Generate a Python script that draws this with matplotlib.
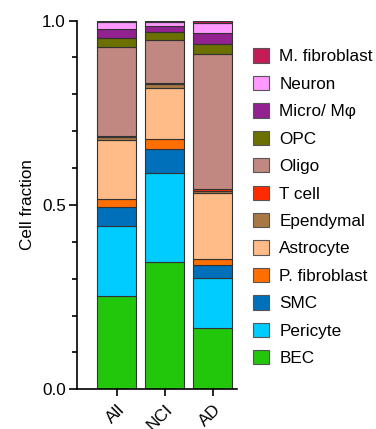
import matplotlib
matplotlib.use("Agg")
import matplotlib.pyplot as plt
import numpy as np
from matplotlib.patches import Patch
from matplotlib.ticker import MultipleLocator

plt.rcParams['font.family'] = ['Liberation Sans', 'DejaVu Sans']

groups = ["All", "NCI", "AD"]
cell_types = ["BEC", "Pericyte", "SMC", "P. fibroblast", "Astrocyte", "Ependymal",
              "T cell", "Oligo", "OPC", "Micro/ Mφ", "Neuron", "M. fibroblast"]
colors = ["#22C70C", "#00CCFF", "#0070BA", "#FF6F00", "#FFBB88", "#A87844",
          "#FF2A00", "#C08880", "#6B7000", "#92228F", "#FF99FF", "#C41C58"]

bec = [0.254, 0.345, 0.165]
pericyte = [0.190, 0.243, 0.136]
smc = [0.051, 0.064, 0.035]
p_fibroblast = [0.021, 0.026, 0.017]
astrocyte = [0.160, 0.139, 0.179]
ependymal = [0.009, 0.010, 0.007]
t_cell = [0.003, 0.005, 0.004]
oligo = [0.241, 0.116, 0.367]
opc = [0.023, 0.021, 0.026]
micro = [0.025, 0.017, 0.031]
neuron = [0.019, 0.010, 0.027]
m_fibroblast = [0.004, 0.004, 0.006]

series = [bec, pericyte, smc, p_fibroblast, astrocyte, ependymal, t_cell,
          oligo, opc, micro, neuron, m_fibroblast]

FS = 12.3

fig = plt.figure(figsize=(3.76, 4.29), dpi=100)
ax = fig.add_axes([0.205, 0.0925, 0.425, 0.8595])

x = np.arange(len(groups))
bottom = np.zeros(len(groups))
for vals, c in zip(series, colors):
    v = np.array(vals)
    ax.bar(x, v, bottom=bottom, width=0.81, color=c, edgecolor="#333333", linewidth=0.8)
    bottom += v

ax.set_xlim(-0.83, 2.5)
ax.set_ylim(0, 1.0)
ax.yaxis.set_minor_locator(MultipleLocator(0.1))
ax.set_yticks([0, 0.5, 1.0])
ax.set_yticklabels(["0.0", "0.5", "1.0"], fontsize=FS)
ax.tick_params(axis='y', which='major', length=6, width=1.2, pad=2)
ax.tick_params(axis='y', which='minor', length=3.5, width=1.2)
ax.set_xticks(x)
ax.set_xticklabels(groups, rotation=45, ha='right', rotation_mode='anchor', fontsize=FS)
ax.tick_params(axis='x', length=5, width=1.2, pad=4)
for s in ['top', 'right']:
    ax.spines[s].set_visible(False)
for s in ['left', 'bottom']:
    ax.spines[s].set_linewidth(1.2)
ax.set_ylabel("Cell fraction", fontsize=FS, labelpad=5)

handles = [Patch(facecolor=c, edgecolor="#555555", linewidth=0.8, label=l)
           for c, l in zip(colors, cell_types)][::-1]
fig.legend(handles=handles, loc='upper left', bbox_to_anchor=(0.672, 0.887),
           frameon=False, fontsize=FS, handlelength=0.96, handleheight=0.9,
           labelspacing=0.67, handletextpad=0.6, borderpad=0, borderaxespad=0)

fig.savefig("out.png", dpi=100)
